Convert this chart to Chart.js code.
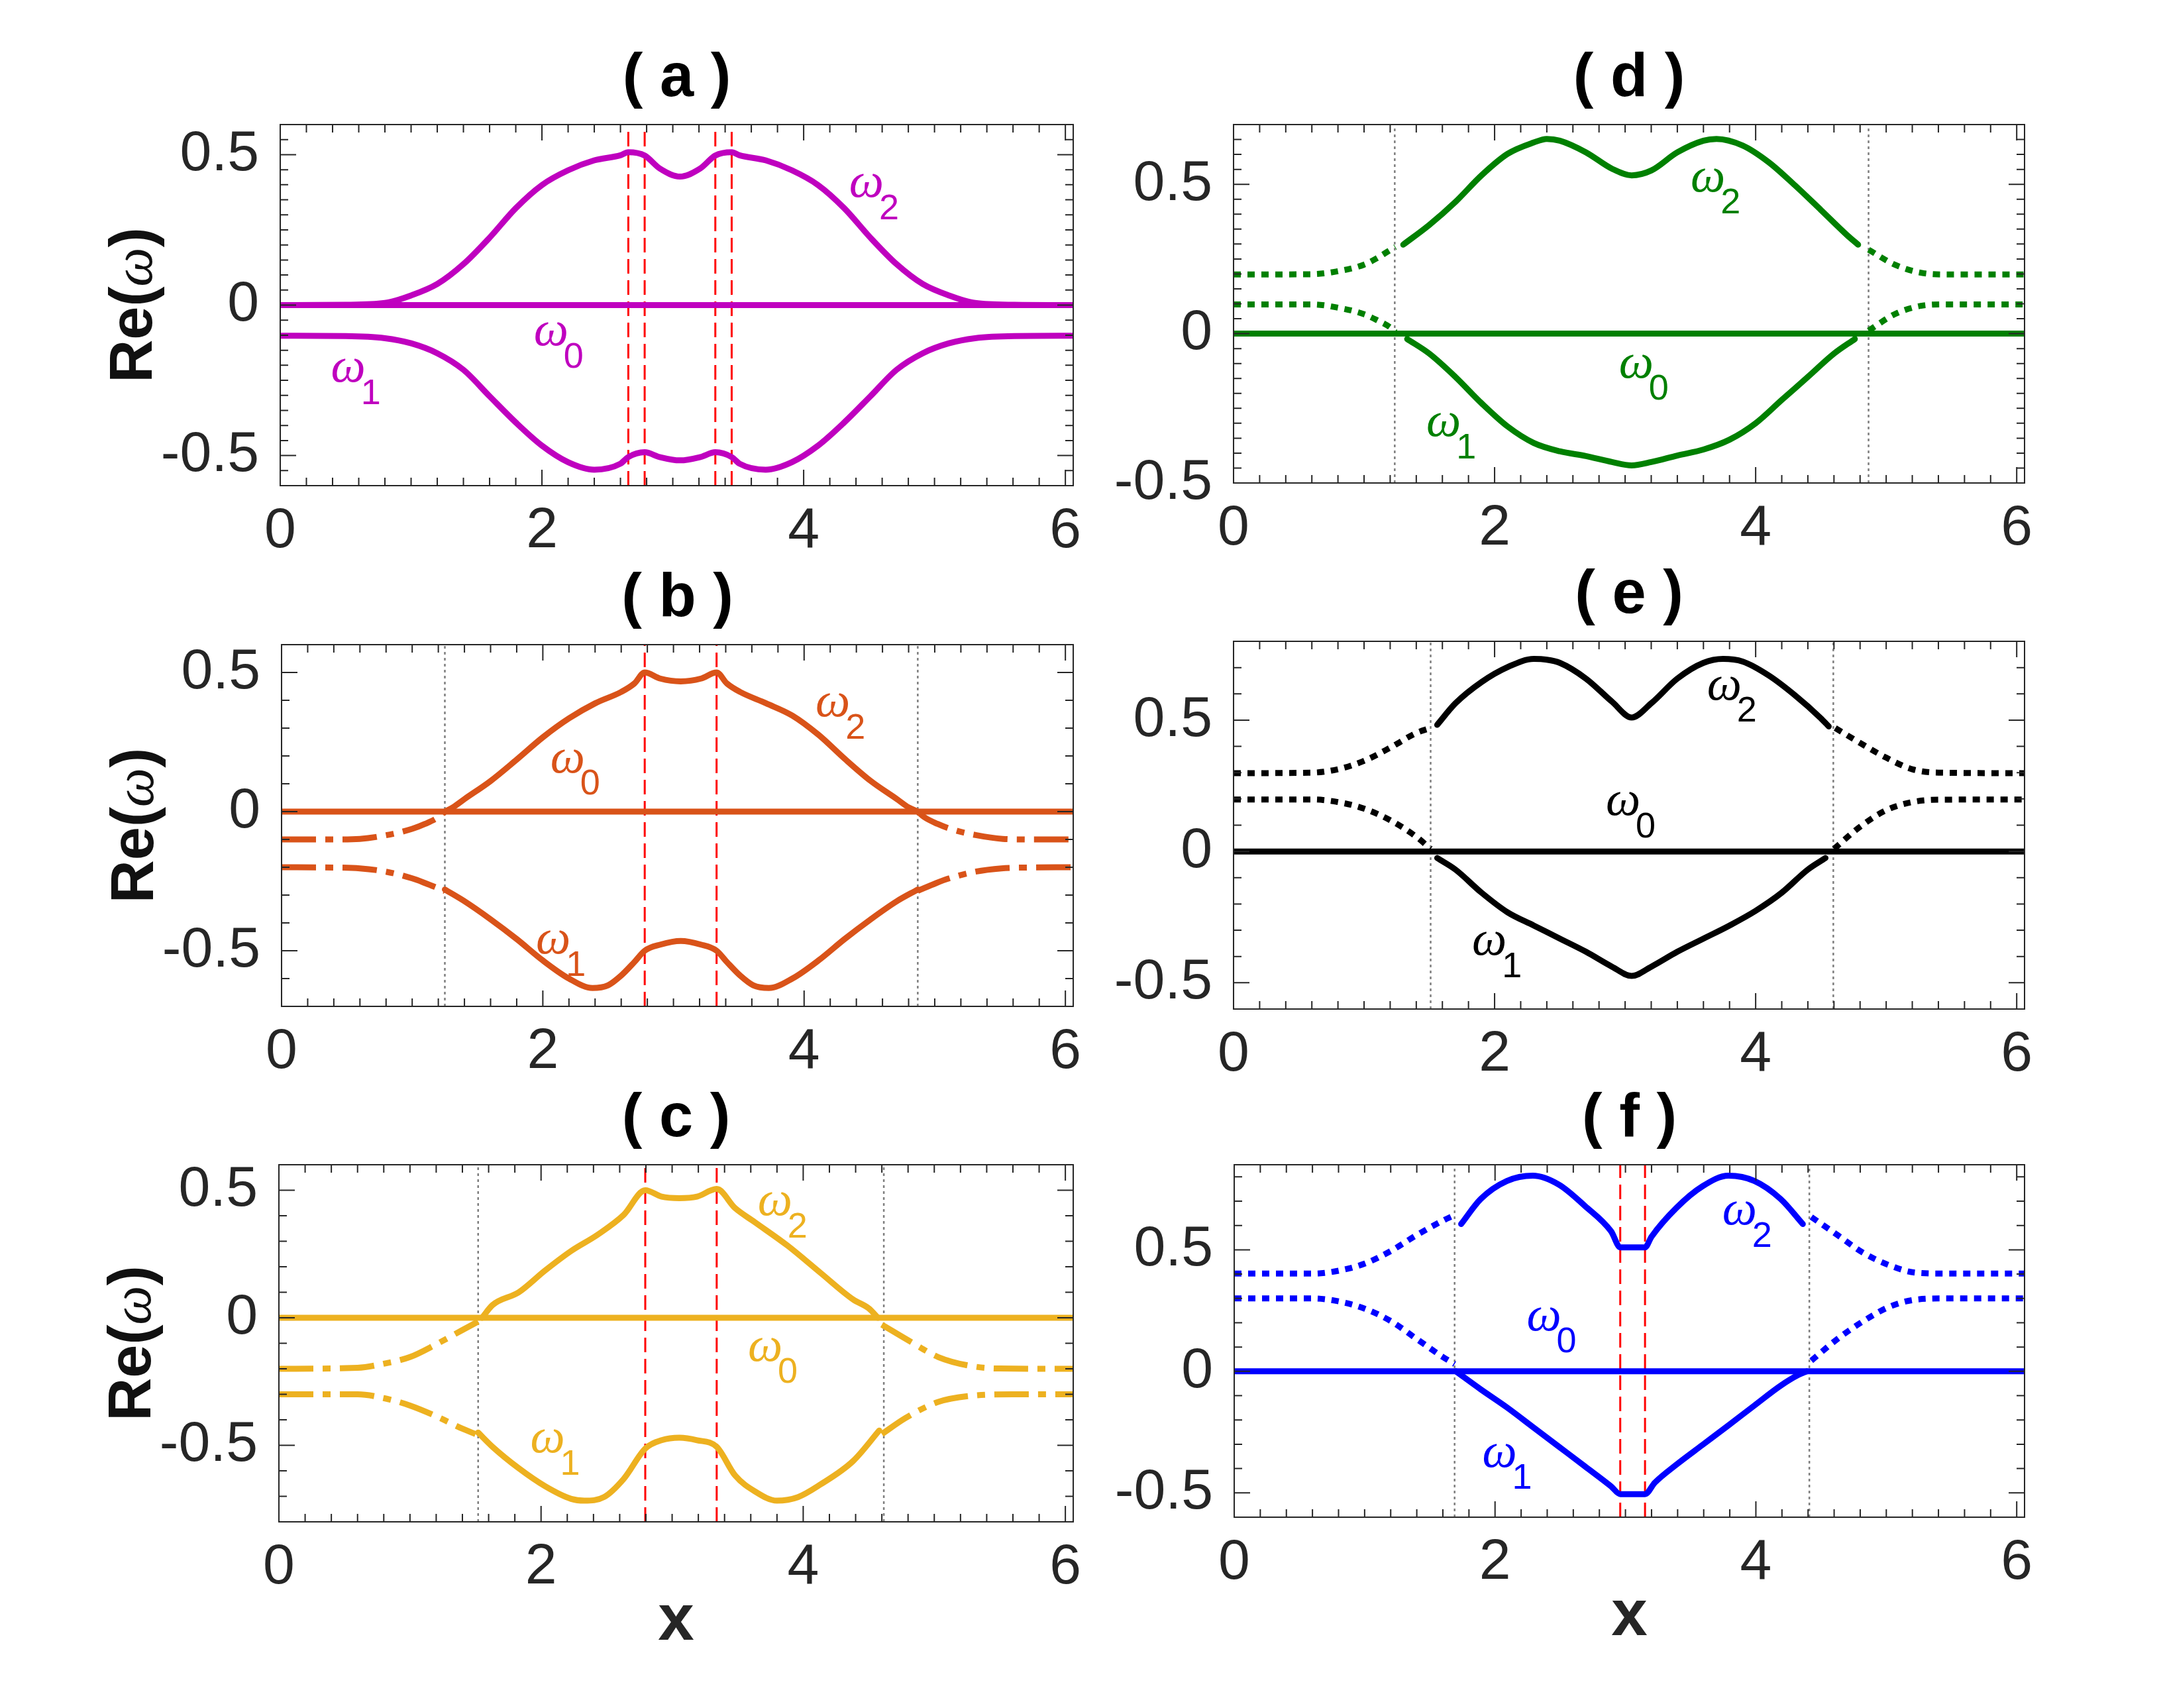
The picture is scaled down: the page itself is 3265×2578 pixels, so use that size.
<!DOCTYPE html>
<html>
<head>
<meta charset="utf-8">
<title>Re(ω) panels</title>
<script src="https://cdn.jsdelivr.net/npm/chart.js@4.4.1/dist/chart.umd.min.js"></script>
<style>
html,body{margin:0;padding:0;background:#fff;}
body{width:3265px;height:2578px;position:relative;overflow:hidden;}
canvas{position:absolute;}
</style>
</head>
<body>
<script>
// ================= DATA =================
const xTickLabels = [0, 2, 4, 6];
const yTickLabels = [-0.5, 0, 0.5];

// ---- panel (a) ----
const a_w0_x = [0, 6.06];
const a_w0_y = [0, 0];
const a_w2_x = [0, 0.5, 0.8, 1.0, 1.2, 1.4, 1.6, 1.8, 2.0, 2.2, 2.4, 2.6, 2.66, 2.785, 2.9, 3.055, 3.21, 3.325, 3.45, 3.51, 3.71, 3.91, 4.11, 4.31, 4.51, 4.71, 4.91, 5.11, 5.31, 5.61, 6.06];
const a_w2_y = [0, 0.001, 0.007, 0.032, 0.07, 0.136, 0.224, 0.322, 0.399, 0.448, 0.481, 0.498, 0.508, 0.497, 0.454, 0.427, 0.454, 0.497, 0.508, 0.498, 0.481, 0.448, 0.399, 0.322, 0.224, 0.136, 0.07, 0.032, 0.007, 0.001, 0];
const a_w1_x = a_w2_x;
const a_w1_y = [-0.102, -0.103, -0.11, -0.127, -0.16, -0.215, -0.303, -0.39, -0.467, -0.522, -0.547, -0.527, -0.505, -0.489, -0.505, -0.516, -0.505, -0.489, -0.505, -0.527, -0.547, -0.522, -0.467, -0.39, -0.303, -0.215, -0.16, -0.127, -0.11, -0.103, -0.102];
const a_red = [2.66, 2.785, 3.325, 3.45];
const a_gray = [];
const a_labels = [[4.48, 0.402, '2'], [2.07, -0.091, '0'], [0.52, -0.212, '1']];

// ---- panel (b) ----
const b_w0_x = [0, 6.06];
const b_w0_y = [0, 0];
const b_upL_x = [0, 0.4, 0.6, 0.8, 1.0, 1.1, 1.2, 1.25];
const b_upL_y = [-0.1, -0.1, -0.098, -0.085, -0.062, -0.044, -0.02, 0];
const b_upI_x = [1.25, 1.31, 1.4, 1.6, 1.8, 2.0, 2.2, 2.4, 2.6, 2.7, 2.78, 2.9, 3.055, 3.21, 3.33, 3.41, 3.51, 3.71, 3.91, 4.11, 4.31, 4.51, 4.71, 4.8, 4.87];
const b_upI_y = [0, 0.015, 0.045, 0.11, 0.187, 0.267, 0.335, 0.389, 0.43, 0.46, 0.5, 0.478, 0.468, 0.478, 0.5, 0.46, 0.43, 0.389, 0.345, 0.276, 0.19, 0.11, 0.045, 0.015, 0];
const b_upR_x = [4.87, 4.92, 5.02, 5.12, 5.32, 5.52, 5.72, 6.06];
const b_upR_y = [0, -0.02, -0.044, -0.062, -0.085, -0.098, -0.1, -0.1];
const b_loL_x = [0, 0.4, 0.6, 0.8, 1.0, 1.1, 1.25];
const b_loL_y = [-0.2, -0.201, -0.204, -0.216, -0.24, -0.257, -0.285];
const b_loI_x = [1.25, 1.4, 1.6, 1.8, 2.0, 2.2, 2.38, 2.5, 2.6, 2.7, 2.78, 2.9, 3.055, 3.21, 3.33, 3.41, 3.51, 3.61, 3.73, 3.91, 4.11, 4.31, 4.51, 4.71, 4.87];
const b_loI_y = [-0.28, -0.322, -0.387, -0.458, -0.535, -0.6, -0.634, -0.624, -0.589, -0.541, -0.5, -0.478, -0.465, -0.478, -0.5, -0.541, -0.589, -0.624, -0.634, -0.6, -0.535, -0.458, -0.387, -0.322, -0.28];
const b_loR_x = [4.87, 5.01, 5.11, 5.31, 5.51, 5.71, 6.06];
const b_loR_y = [-0.285, -0.257, -0.24, -0.216, -0.204, -0.201, -0.2];
const b_red = [2.78, 3.33];
const b_gray = [1.25, 4.87];
const b_labels = [[4.22, 0.389, '2'], [2.19, 0.187, '0'], [2.08, -0.464, '1']];

// ---- panel (c) ----
const c_w0_x = [0, 6.06];
const c_w0_y = [0, 0];
const c_upL_x = [0, 0.6, 0.8, 1.0, 1.2, 1.4, 1.52];
const c_upL_y = [-0.2, -0.196, -0.18, -0.154, -0.104, -0.048, -0.015];
const c_upI_x = [1.55, 1.63, 1.83, 2.03, 2.23, 2.43, 2.63, 2.795, 2.92, 3.055, 3.19, 3.34, 3.48, 3.63, 3.88, 4.13, 4.38, 4.5, 4.57];
const c_upI_y = [0, 0.05, 0.1, 0.185, 0.262, 0.325, 0.403, 0.5, 0.475, 0.469, 0.475, 0.505, 0.43, 0.375, 0.283, 0.177, 0.072, 0.037, 0];
const c_upR_x = [4.6, 4.83, 5.03, 5.28, 5.5, 6.06];
const c_upR_y = [-0.027, -0.097, -0.154, -0.189, -0.199, -0.2];
const c_loL_x = [0, 0.6, 0.8, 1.0, 1.2, 1.4, 1.5];
const c_loL_y = [-0.3, -0.3, -0.315, -0.344, -0.386, -0.435, -0.456];
const c_loI_x = [1.52, 1.63, 1.83, 2.03, 2.23, 2.33, 2.48, 2.63, 2.795, 2.92, 3.055, 3.19, 3.34, 3.48, 3.63, 3.8, 3.96, 4.13, 4.38, 4.58];
const c_loI_y = [-0.45, -0.506, -0.59, -0.66, -0.71, -0.717, -0.703, -0.632, -0.513, -0.48, -0.47, -0.48, -0.506, -0.618, -0.68, -0.717, -0.703, -0.654, -0.562, -0.442];
const c_loR_x = [4.6, 4.78, 5.03, 5.28, 5.6, 6.06];
const c_loR_y = [-0.456, -0.393, -0.33, -0.306, -0.3, -0.3];
const c_red = [2.795, 3.34];
const c_gray = [1.52, 4.615];
const c_labels = [[3.785, 0.452, '2'], [3.71, -0.118, '0'], [2.05, -0.477, '1']];

// ---- panel (d) ----
const d_w0_x = [0, 6.06];
const d_w0_y = [0, 0];
const d_upL_x = [0, 0.6, 0.8, 1.0, 1.1, 1.2, 1.24];
const d_upL_y = [0.198, 0.199, 0.209, 0.231, 0.253, 0.28, 0.29];
const d_upI_x = [1.3, 1.5, 1.7, 1.9, 2.1, 2.3, 2.4, 2.5, 2.7, 2.9, 3.05, 3.2, 3.4, 3.6, 3.7, 3.9, 4.1, 4.3, 4.5, 4.7, 4.785];
const d_upI_y = [0.298, 0.364, 0.441, 0.53, 0.602, 0.64, 0.652, 0.646, 0.607, 0.552, 0.53, 0.546, 0.607, 0.646, 0.652, 0.63, 0.574, 0.497, 0.414, 0.33, 0.298];
const d_upR_x = [4.865, 5.065, 5.265, 5.45, 6.06];
const d_upR_y = [0.281, 0.231, 0.204, 0.198, 0.198];
const d_loL_x = [0, 0.6, 0.8, 1.0, 1.1, 1.2, 1.24];
const d_loL_y = [0.098, 0.098, 0.087, 0.065, 0.045, 0.021, 0.005];
const d_loI_x = [1.33, 1.5, 1.7, 1.9, 2.1, 2.3, 2.5, 2.7, 2.9, 3.05, 3.2, 3.4, 3.6, 3.8, 4.0, 4.2, 4.4, 4.6, 4.76];
const d_loI_y = [-0.018, -0.067, -0.145, -0.233, -0.311, -0.366, -0.394, -0.41, -0.43, -0.441, -0.43, -0.408, -0.388, -0.355, -0.3, -0.222, -0.145, -0.067, -0.018];
const d_loR_x = [4.865, 5.065, 5.265, 5.45, 6.06];
const d_loR_y = [0.01, 0.065, 0.093, 0.098, 0.098];
const d_red = [];
const d_gray = [1.235, 4.865];
const d_labels = [[3.635, 0.519, '2'], [3.085, -0.104, '0'], [1.61, -0.30, '1']];

// ---- panel (e) ----
const e_w0_x = [0, 6.06];
const e_w0_y = [0, 0];
const e_upL_x = [0, 0.6, 0.8, 1.0, 1.2, 1.4, 1.51];
const e_upL_y = [0.298, 0.3, 0.313, 0.345, 0.395, 0.451, 0.47];
const e_upI_x = [1.56, 1.7, 1.9, 2.1, 2.3, 2.4, 2.5, 2.7, 2.9, 3.05, 3.2, 3.4, 3.6, 3.75, 3.9, 4.1, 4.3, 4.5, 4.56];
const e_upI_y = [0.482, 0.564, 0.645, 0.702, 0.733, 0.73, 0.718, 0.658, 0.57, 0.51, 0.564, 0.658, 0.718, 0.733, 0.723, 0.67, 0.595, 0.507, 0.476];
const e_upR_x = [4.61, 4.8, 5.0, 5.2, 5.4, 6.06];
const e_upR_y = [0.47, 0.413, 0.357, 0.313, 0.3, 0.298];
const e_loL_x = [0, 0.6, 0.8, 1.0, 1.2, 1.4, 1.51];
const e_loL_y = [0.198, 0.198, 0.188, 0.163, 0.119, 0.056, 0.01];
const e_loI_x = [1.56, 1.7, 1.9, 2.1, 2.3, 2.5, 2.7, 2.9, 3.05, 3.2, 3.4, 3.6, 3.8, 4.0, 4.2, 4.4, 4.535];
const e_loI_y = [-0.025, -0.069, -0.157, -0.232, -0.282, -0.332, -0.382, -0.439, -0.474, -0.439, -0.382, -0.332, -0.282, -0.226, -0.157, -0.069, -0.025];
const e_loR_x = [4.6, 4.8, 5.0, 5.2, 5.4, 6.06];
const e_loR_y = [0.01, 0.094, 0.157, 0.188, 0.197, 0.198];
const e_red = [];
const e_gray = [1.51, 4.595];
const e_labels = [[3.76, 0.627, '2'], [2.985, 0.188, '0'], [1.96, -0.345, '1']];

// ---- panel (f) ----
const f_w0_x = [0, 6.06];
const f_w0_y = [0, 0];
const f_upL_x = [0, 0.6, 0.8, 1.0, 1.2, 1.4, 1.6, 1.69];
const f_upL_y = [0.402, 0.402, 0.414, 0.443, 0.495, 0.561, 0.62, 0.643];
const f_upI_x = [1.74, 1.89, 2.09, 2.29, 2.49, 2.69, 2.89, 2.96, 3.15, 3.2, 3.39, 3.59, 3.79, 3.99, 4.19, 4.36];
const f_upI_y = [0.606, 0.709, 0.783, 0.805, 0.768, 0.68, 0.576, 0.51, 0.51, 0.554, 0.672, 0.761, 0.805, 0.783, 0.709, 0.606];
const f_upR_x = [4.425, 4.625, 4.825, 5.025, 5.225, 5.45, 6.06];
const f_upR_y = [0.635, 0.561, 0.487, 0.436, 0.406, 0.402, 0.402];
const f_loL_x = [0, 0.6, 0.8, 1.0, 1.2, 1.4, 1.6, 1.69];
const f_loL_y = [0.3, 0.3, 0.288, 0.258, 0.207, 0.133, 0.059, 0.03];
const f_loI_x = [1.7, 1.89, 2.09, 2.29, 2.49, 2.69, 2.89, 2.96, 3.15, 3.225, 3.39, 3.59, 3.79, 3.99, 4.19, 4.325, 4.39];
const f_loI_y = [0, -0.074, -0.148, -0.229, -0.31, -0.391, -0.473, -0.505, -0.505, -0.458, -0.384, -0.303, -0.222, -0.14, -0.059, -0.015, 0];
const f_loR_x = [4.425, 4.625, 4.825, 5.025, 5.225, 5.45, 6.06];
const f_loR_y = [0.044, 0.133, 0.207, 0.266, 0.295, 0.3, 0.3];
const f_red = [2.96, 3.15];
const f_gray = [1.69, 4.41];
const f_labels = [[3.875, 0.657, '2'], [2.375, 0.222, '0'], [2.035, -0.34, '1']];

// ================= LAYOUT / STYLE =================
const SANS = '"Liberation Sans", Arial, Helvetica, sans-serif';
const SERIF = '"Liberation Serif", "DejaVu Serif", serif';
const AXC = '#262626';
const PAD = {l: 330, r: 70, t: 150, b: 220};

const panels = [
  {id:'a', L:423, T:188, R:1620, B:733, ymin:-0.6, ymax:0.6, ystep:0.05, color:'#BF00BF', ylab:true, xlab:false,
   lines:[[a_w0_x,a_w0_y,'solid'],[a_w2_x,a_w2_y,'solid'],[a_w1_x,a_w1_y,'solid']], red:a_red, gray:a_gray, labels:a_labels},
  {id:'b', L:425, T:973, R:1620, B:1519, ymin:-0.7, ymax:0.6, ystep:0.1, color:'#D95319', ylab:true, xlab:false,
   lines:[[b_w0_x,b_w0_y,'solid'],[b_upL_x,b_upL_y,'dashdot'],[b_upI_x,b_upI_y,'solid'],[b_upR_x,b_upR_y,'dashdot'],
          [b_loL_x,b_loL_y,'dashdot'],[b_loI_x,b_loI_y,'solid'],[b_loR_x,b_loR_y,'dashdot']], red:b_red, gray:b_gray, labels:b_labels},
  {id:'c', L:421, T:1758, R:1620, B:2297, ymin:-0.8, ymax:0.6, ystep:0.1, color:'#EDB120', ylab:true, xlab:true,
   lines:[[c_w0_x,c_w0_y,'solid'],[c_upL_x,c_upL_y,'dashdot'],[c_upI_x,c_upI_y,'solid'],[c_upR_x,c_upR_y,'dashdot'],
          [c_loL_x,c_loL_y,'dashdot'],[c_loI_x,c_loI_y,'solid'],[c_loR_x,c_loR_y,'dashdot']], red:c_red, gray:c_gray, labels:c_labels},
  {id:'d', L:1862, T:188, R:3056, B:729, ymin:-0.5, ymax:0.7, ystep:0.05, color:'#008000', ylab:false, xlab:false,
   lines:[[d_w0_x,d_w0_y,'solid'],[d_upL_x,d_upL_y,'dot'],[d_upI_x,d_upI_y,'solid'],[d_upR_x,d_upR_y,'dot'],
          [d_loL_x,d_loL_y,'dot'],[d_loI_x,d_loI_y,'solid'],[d_loR_x,d_loR_y,'dot']], red:d_red, gray:d_gray, labels:d_labels},
  {id:'e', L:1862, T:968, R:3056, B:1523, ymin:-0.6, ymax:0.8, ystep:0.1, color:'#000000', ylab:false, xlab:false,
   lines:[[e_w0_x,e_w0_y,'solid'],[e_upL_x,e_upL_y,'dot'],[e_upI_x,e_upI_y,'solid'],[e_upR_x,e_upR_y,'dot'],
          [e_loL_x,e_loL_y,'dot'],[e_loI_x,e_loI_y,'solid'],[e_loR_x,e_loR_y,'dot']], red:e_red, gray:e_gray, labels:e_labels},
  {id:'f', L:1863, T:1758, R:3056, B:2290, ymin:-0.6, ymax:0.85, ystep:0.1, color:'#0000FF', ylab:false, xlab:true,
   lines:[[f_w0_x,f_w0_y,'solid'],[f_upL_x,f_upL_y,'dot'],[f_upI_x,f_upI_y,'solid'],[f_upR_x,f_upR_y,'dot'],
          [f_loL_x,f_loL_y,'dot'],[f_loI_x,f_loI_y,'solid'],[f_loR_x,f_loR_y,'dot']], red:f_red, gray:f_gray, labels:f_labels}
];

function pts(xs, ys) { return xs.map((x, i) => ({x: x, y: ys[i]})); }

function curve(xs, ys, color, style) {
  const ds = {data: pts(xs, ys), borderColor: color, borderWidth: 9, pointRadius: 0, fill: false,
              cubicInterpolationMode: 'monotone', borderJoinStyle: 'round', borderCapStyle: 'round'};
  if (style === 'dashdot') { ds.borderDash = [52, 14, 12, 14]; ds.borderCapStyle = 'butt'; }
  if (style === 'dot') { ds.borderDash = [11, 10]; ds.borderCapStyle = 'butt'; }
  return ds;
}
function vline(v, ymin, ymax, kind) {
  const red = kind === 'red';
  return {data: [{x: v, y: ymin}, {x: v, y: ymax}], borderColor: red ? '#FF0000' : '#7F7F7F',
          borderWidth: red ? 3 : 2.5, borderDash: red ? [22, 10] : [4, 5], pointRadius: 0, tension: 0, fill: false};
}
const near = (a, b) => Math.abs(a - b) < 1e-6;

function decor(p) {
  return {
    id: 'decor_' + p.id,
    afterDraw(chart) {
      const ctx = chart.ctx, A = chart.chartArea, xs = chart.scales.x, ys = chart.scales.y;
      ctx.save();
      // inward ticks + box
      ctx.strokeStyle = AXC; ctx.lineWidth = 2; ctx.lineCap = 'butt';
      ctx.beginPath();
      for (let i = 0; i <= 30; i++) {
        const v = i * 0.2;
        const px = xs.getPixelForValue(v);
        const len = xTickLabels.some(m => near(m, v)) ? 24 : 12;
        ctx.moveTo(px, A.bottom); ctx.lineTo(px, A.bottom - len);
        ctx.moveTo(px, A.top); ctx.lineTo(px, A.top + len);
      }
      const n = Math.floor((p.ymax - p.ymin) / p.ystep + 1e-6);
      for (let i = 0; i <= n; i++) {
        const v = p.ymin + i * p.ystep;
        const py = ys.getPixelForValue(v);
        const len = yTickLabels.some(m => near(m, v)) ? 24 : 12;
        ctx.moveTo(A.left, py); ctx.lineTo(A.left + len, py);
        ctx.moveTo(A.right, py); ctx.lineTo(A.right - len, py);
      }
      ctx.stroke();
      ctx.strokeRect(A.left, A.top, A.right - A.left, A.bottom - A.top);

      // curve labels ω_k
      ctx.fillStyle = p.color; ctx.textAlign = 'center'; ctx.textBaseline = 'middle';
      p.labels.forEach(([lx, ly, sub]) => {
        const px = xs.getPixelForValue(lx), py = ys.getPixelForValue(ly);
        ctx.font = 'italic 74px ' + SERIF;
        ctx.fillText('ω', px, py);
        ctx.font = '54px ' + SANS;
        ctx.fillText(sub, px + 34, py + 38);
      });

      // title
      const cx = (A.left + A.right) / 2;
      ctx.fillStyle = '#000'; ctx.font = 'bold 92px ' + SANS;
      ctx.textAlign = 'center'; ctx.textBaseline = 'middle';
      ctx.fillText('( ' + p.id + ' )', cx, A.top - 68);

      // x label
      if (p.xlab) {
        ctx.fillStyle = AXC; ctx.font = 'bold 98px ' + SANS;
        ctx.textBaseline = 'alphabetic';
        ctx.fillText('x', cx, A.bottom + 178);
      }
      // y label Re(ω)
      if (p.ylab) {
        ctx.save();
        ctx.translate(A.left - 194, (A.top + A.bottom) / 2);
        ctx.rotate(-Math.PI / 2);
        ctx.fillStyle = '#111'; ctx.textBaseline = 'alphabetic'; ctx.textAlign = 'left';
        const parts = [['Re(', 'bold 90px ' + SANS], ['ω', 'italic 84px ' + SERIF], [')', 'bold 90px ' + SANS]];
        let total = 0;
        parts.forEach(([t, f]) => { ctx.font = f; total += ctx.measureText(t).width; });
        let x0 = -total / 2;
        parts.forEach(([t, f]) => { ctx.font = f; ctx.fillText(t, x0, 0); x0 += ctx.measureText(t).width; });
        ctx.restore();
      }
      ctx.restore();
    }
  };
}

panels.forEach(p => {
  const W = p.R - p.L, H = p.B - p.T;
  const cv = document.createElement('canvas');
  cv.width = PAD.l + W + PAD.r; cv.height = PAD.t + H + PAD.b;
  cv.style.left = (p.L - PAD.l) + 'px'; cv.style.top = (p.T - PAD.t) + 'px';
  cv.style.width = cv.width + 'px'; cv.style.height = cv.height + 'px';
  document.body.appendChild(cv);

  const datasets = [];
  p.lines.forEach(([xs, ys, st]) => datasets.push(curve(xs, ys, p.color, st)));
  p.red.forEach(v => datasets.push(vline(v, p.ymin, p.ymax, 'red')));
  p.gray.forEach(v => datasets.push(vline(v, p.ymin, p.ymax, 'gray')));

  new Chart(cv, {
    type: 'line',
    data: {datasets},
    options: {
      responsive: false, animation: false, events: [],
      layout: {padding: {top: PAD.t, right: PAD.r, left: 0, bottom: 0}},
      plugins: {legend: {display: false}, tooltip: {enabled: false}, title: {display: false}},
      scales: {
        x: {
          type: 'linear', min: 0, max: 6.06,
          grid: {display: false}, border: {display: false},
          afterBuildTicks: s => { s.ticks = xTickLabels.map(v => ({value: v})); },
          afterFit: s => { s.height = PAD.b; },
          ticks: {font: {family: SANS, size: 86}, color: AXC, padding: 10, autoSkip: false, maxRotation: 0, minRotation: 0,
                  callback: v => String(v)}
        },
        y: {
          type: 'linear', min: p.ymin, max: p.ymax,
          grid: {display: false}, border: {display: false},
          afterBuildTicks: s => { s.ticks = yTickLabels.map(v => ({value: v})); },
          afterFit: s => { s.width = PAD.l; },
          ticks: {font: {family: SANS, size: 86}, color: AXC, padding: 24, autoSkip: false,
                  callback: v => (near(v, 0) ? '0' : String(v))}
        }
      }
    },
    plugins: [decor(p)]
  });
});
</script>
</body>
</html>
